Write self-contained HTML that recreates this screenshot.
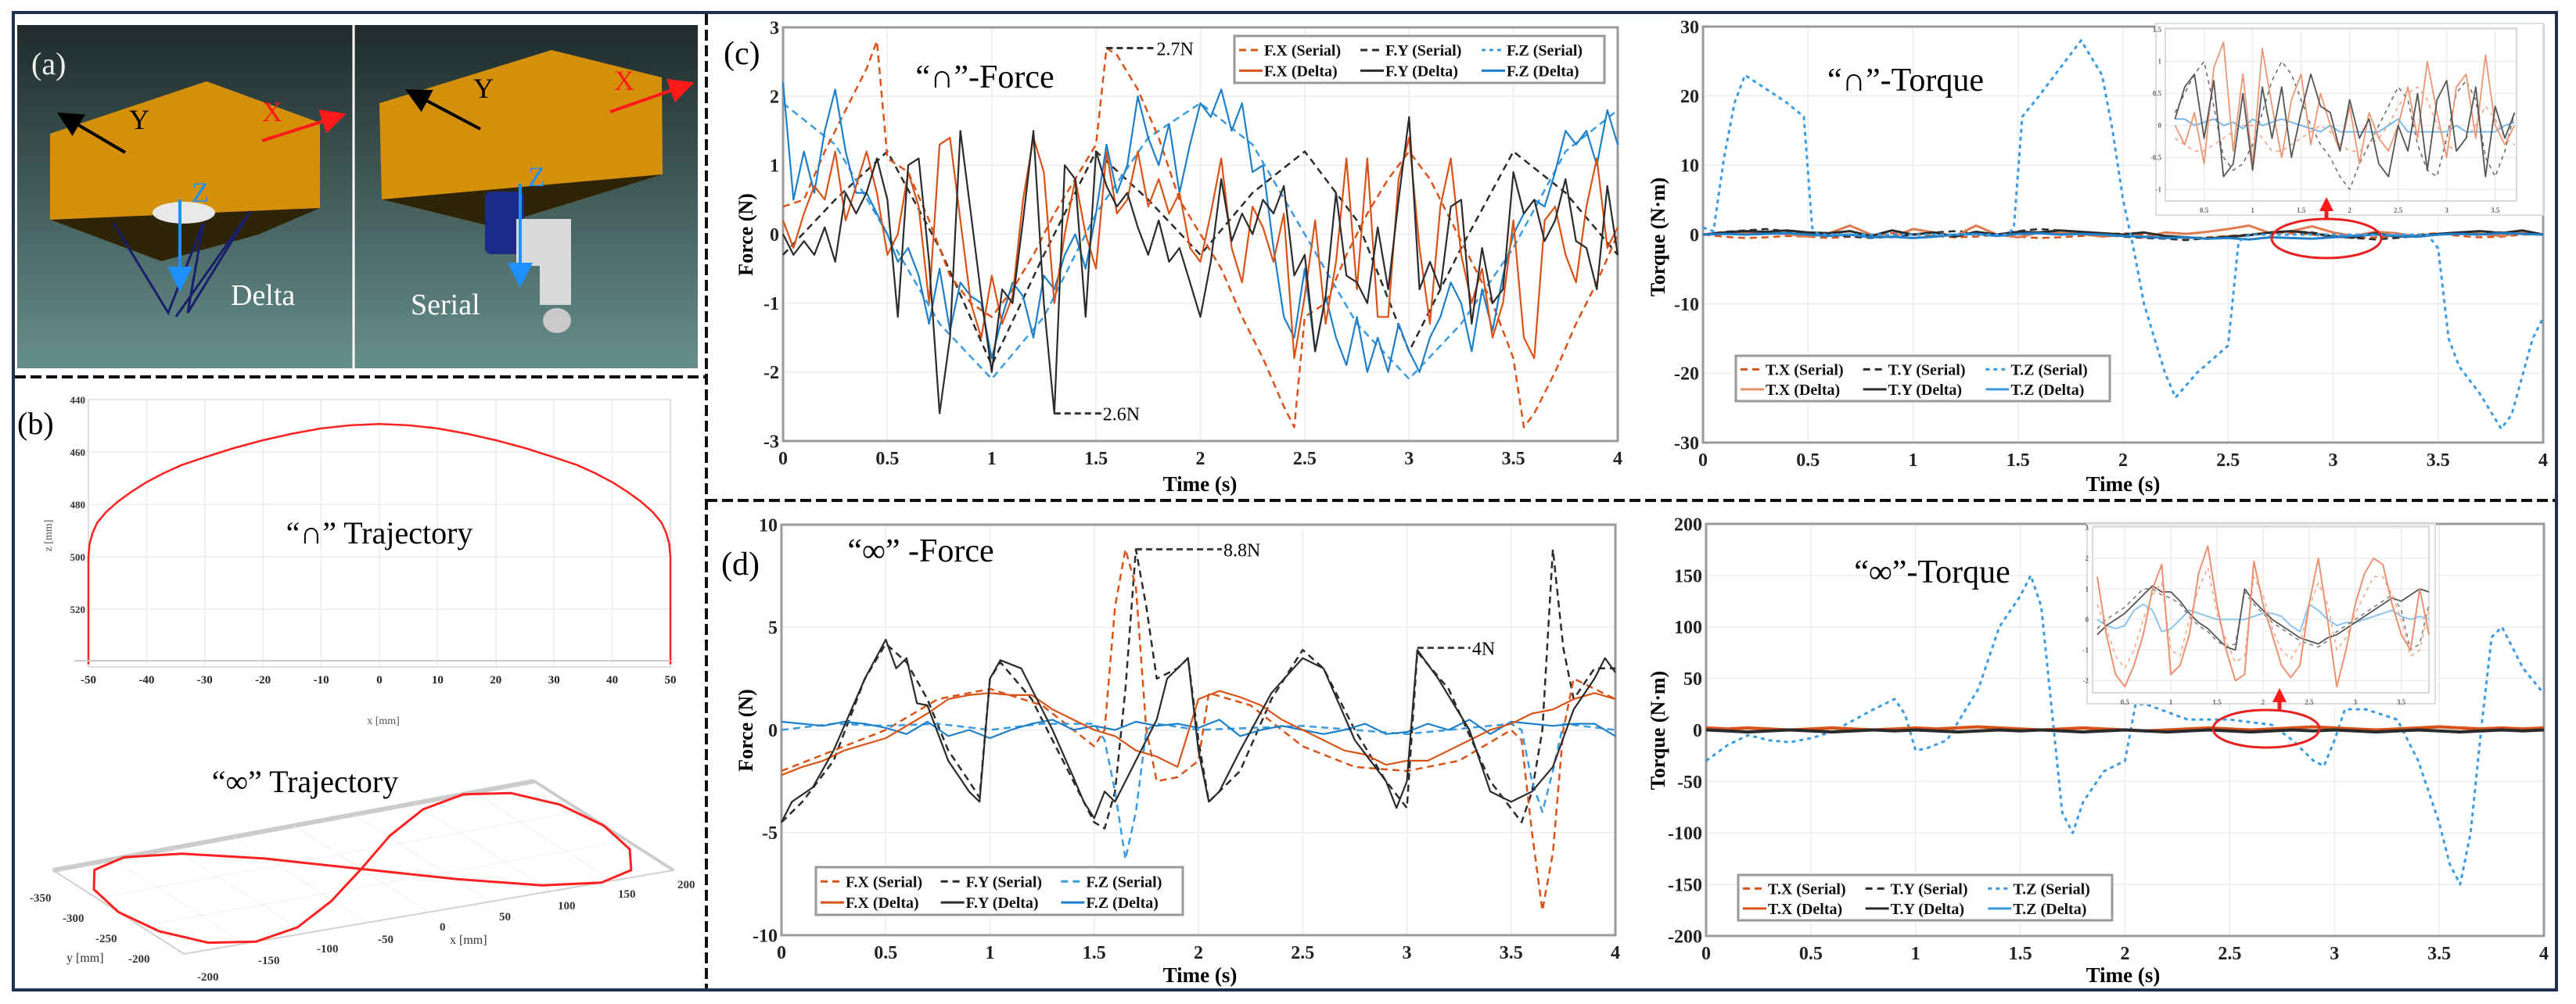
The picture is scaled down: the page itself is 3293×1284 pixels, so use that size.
<!DOCTYPE html>
<html><head><meta charset="utf-8"><style>
html,body{margin:0;padding:0;background:#fff}
svg{display:block}
text{font-family:"Liberation Serif",serif}
</style></head><body>
<svg id="fig" xmlns="http://www.w3.org/2000/svg" width="3293" height="1284" viewBox="0 0 3293 1284">
<defs>
<linearGradient id="bg" x1="0" y1="0" x2="0" y2="1"><stop offset="0" stop-color="#1f2b2a"/><stop offset="1" stop-color="#668f8c"/></linearGradient>
<marker id="arR" markerWidth="8" markerHeight="8" refX="6" refY="4" orient="auto"><path d="M0,0 L8,4 L0,8 z" fill="#ff1a1a"/></marker>
<marker id="arR2" markerUnits="userSpaceOnUse" markerWidth="18" markerHeight="18" refX="12" refY="9" orient="auto"><path d="M0,0 L18,9 L0,18 z" fill="#ff1a1a"/></marker>
<marker id="arK" markerWidth="8" markerHeight="8" refX="6" refY="4" orient="auto"><path d="M0,0 L8,4 L0,8 z" fill="#000"/></marker>
<marker id="arB" markerWidth="8" markerHeight="8" refX="6" refY="4" orient="auto"><path d="M0,0 L8,4 L0,8 z" fill="#1e90ff"/></marker>
</defs>
<rect x="17" y="16" width="3251" height="1250" fill="#fff" stroke="#1f3050" stroke-width="4"/>
<g>
<rect x="22" y="32" width="870" height="439" fill="url(#bg)"/>
<line x1="452" y1="32" x2="452" y2="471" stroke="#fff" stroke-width="3"/>
<polygon points="64,171 264,104 409,157 409,266 206,334 64,281" fill="#d4900a"/>
<polygon points="64,281 409,266 330,300 206,334" fill="#2e2408"/>
<polygon points="485,132 705,64 846,99 847,223 630,290 488,255" fill="#d4900a"/>
<polygon points="488,255 847,223 630,290" fill="#2e2408"/>
<line x1="160" y1="195" x2="80" y2="148" stroke="#000" stroke-width="4" marker-end="url(#arK)"/>
<line x1="335" y1="180" x2="435" y2="148" stroke="#ff1a1a" stroke-width="4" marker-end="url(#arR)"/>
<line x1="614" y1="165" x2="525" y2="118" stroke="#000" stroke-width="4" marker-end="url(#arK)"/>
<line x1="780" y1="143" x2="880" y2="108" stroke="#ff1a1a" stroke-width="4" marker-end="url(#arR)"/>
<ellipse cx="235" cy="272" rx="40" ry="14" fill="#e8e8e8"/>
<polyline points="145,285 215,400 260,285 240,400 320,270 225,405" fill="none" stroke="#1a1f6b" stroke-width="3"/>
<rect x="620" y="245" width="50" height="80" rx="8" fill="#1c2b8a"/>
<rect x="660" y="280" width="70" height="60" fill="#d9d9d9"/>
<rect x="690" y="330" width="40" height="60" fill="#d9d9d9"/>
<ellipse cx="712" cy="410" rx="18" ry="16" fill="#c9c9c9"/>
<line x1="230" y1="255" x2="230" y2="365" stroke="#1e90ff" stroke-width="4" marker-end="url(#arB)"/>
<line x1="665" y1="235" x2="665" y2="360" stroke="#1e90ff" stroke-width="4" marker-end="url(#arB)"/>
<text x="40" y="95" font-size="40" fill="#eee">(a)</text>
<text x="165" y="165" font-size="36" fill="#000">Y</text>
<text x="335" y="155" font-size="36" fill="#ff1a1a">X</text>
<text x="245" y="258" font-size="36" fill="#1e90ff">Z</text>
<text x="295" y="390" font-size="38" fill="#fff">Delta</text>
<text x="605" y="125" font-size="36" fill="#000">Y</text>
<text x="785" y="115" font-size="36" fill="#ff1a1a">X</text>
<text x="675" y="238" font-size="36" fill="#1e90ff">Z</text>
<text x="525" y="402" font-size="38" fill="#fff">Serial</text>
</g>
<g stroke="#111" stroke-width="4" stroke-dasharray="14,6">
<line x1="903" y1="18" x2="903" y2="1264"/>
<line x1="19" y1="482" x2="903" y2="482"/>
<line x1="903" y1="640" x2="3266" y2="640"/>
</g>
<text x="22" y="555" font-size="40">(b)</text>
<g id="layer"></g>
</svg>
<script>
const NS='http://www.w3.org/2000/svg';
const layer=document.getElementById('layer');
function el(tag,attrs,parent,txt){const e=document.createElementNS(NS,tag);for(const k in attrs)e.setAttribute(k,attrs[k]);if(txt!==undefined)e.textContent=txt;(parent||layer).appendChild(e);return e;}

/* ---------- DATA ---------- */
const tickT=[0,0.5,1,1.5,2,2.5,3,3.5,4];
const tickLabT=['0','0.5','1','1.5','2','2.5','3','3.5','4'];
const t05=[];for(let i=0;i<=80;i++)t05.push(i*0.05);
const t10=[];for(let i=0;i<=40;i++)t10.push(i*0.1);

const cTicksY=[-3,-2,-1,0,1,2,3];
const cFxS_t=[0,0.1,0.2,0.3,0.4,0.45,0.5,0.6,0.7,0.8,0.9,1.0,1.1,1.2,1.3,1.4,1.5,1.55,1.6,1.7,1.8,1.9,2.0,2.1,2.2,2.3,2.4,2.45,2.5,2.6,2.7,2.8,2.9,3.0,3.1,3.2,3.3,3.4,3.5,3.55,3.6,3.7,3.8,3.9,4.0];
const cFxS=[0.4,0.5,1.2,1.8,2.4,2.8,1.1,0.9,0.2,-0.6,-1.0,-1.2,-0.8,-0.3,0.3,0.8,1.3,2.7,2.6,2.1,1.4,0.5,0.0,-0.5,-1.2,-1.8,-2.5,-2.8,-1.2,-1.0,-0.3,0.3,0.8,1.2,0.8,0.2,-0.4,-1.0,-1.8,-2.8,-2.6,-2.0,-1.3,-0.7,0.0];
const cFyS_t=[0,0.25,0.5,0.75,1,1.25,1.5,1.75,2,2.25,2.5,2.75,3,3.25,3.5,3.75,4];
const cFyS=[-0.3,0.5,1.2,-0.2,-1.9,-0.3,1.2,0.5,-0.3,0.6,1.2,0.2,-1.7,-0.2,1.2,0.6,-0.3];
const cFzS=[1.9,1.3,0.0,-1.3,-2.1,-1.2,0.3,1.4,1.9,1.3,0.0,-1.3,-2.1,-1.3,-0.2,1.2,1.8];
const cFxD=[0.2,-0.2,0.3,0.7,0.5,1.2,0.2,0.7,1.2,0.6,-0.3,0.0,0.9,0.4,-1.0,1.3,1.4,0.2,-1.0,-1.5,-0.6,-1.3,-0.9,0.5,1.4,0.9,-1.0,0.0,0.8,0.0,-0.5,1.2,0.3,0.5,1.2,0.4,0.8,0.3,0.6,-0.2,-0.4,0.3,1.1,-0.2,-0.7,0.4,0.1,-0.4,0.3,-1.8,-0.9,0.2,-1.3,-0.4,1.1,-0.8,1.1,-1.2,-1.2,0.8,1.4,-0.2,-1.3,0.4,1.1,-0.3,-1.0,-0.5,-1.5,-1.0,0.2,-1.5,-1.8,0.2,0.4,-0.3,-0.7,0.4,1.1,-0.2,0.1];
const cFyD=[0,-0.3,-0.1,-0.3,0.1,-0.4,0.6,0.3,0.6,1.1,0.5,-1.2,1.0,1.1,-0.4,-2.6,-1.5,1.5,0.3,-0.9,-2.0,-0.8,-1.0,0.2,1.5,-1.0,-2.6,1.0,0.8,-1.2,1.2,0.7,0.4,0.6,0.1,-0.3,0.2,-0.4,-0.2,-0.7,-1.2,-0.4,0.8,-0.1,0.3,0.0,0.5,0.3,0.7,-0.6,-0.3,-1.7,-0.9,0.6,-0.6,-0.7,-1.0,0.1,-0.8,0.5,1.7,-0.8,-0.4,-0.8,0.4,0.5,-1.3,-0.2,-1.0,-0.8,0.9,0.3,0.5,-0.1,0.2,0.8,-0.1,-0.2,-0.8,0.7,-0.3];
const cFzD=[2.2,0.5,1.2,0.6,1.5,2.1,1.2,0.6,0.6,0.3,0.0,-0.4,-0.2,-0.6,-1.3,-0.5,-1.4,-0.7,-0.9,-1.0,-1.8,-1.2,-0.7,-0.9,-1.5,-0.6,-0.8,-0.3,0.0,-0.5,0.3,1.3,0.6,1.0,2.0,1.4,1.0,1.6,0.6,1.3,1.9,1.7,2.1,1.5,1.9,0.9,1.0,-0.2,-1.2,-1.5,-0.5,-1.7,-0.9,-1.5,-1.9,-1.2,-2.0,-1.5,-2.0,-1.3,-1.7,-2.0,-1.5,-1.2,-0.7,-1.0,-1.7,-0.8,-1.4,-0.6,0.0,0.3,0.5,0.4,0.9,1.5,1.3,1.5,1.0,1.8,1.3];

const ctTicksY=[-30,-20,-10,0,10,20,30];
const ctTzS_t=[0,0.05,0.1,0.15,0.2,0.3,0.4,0.48,0.52,0.55,1.45,1.48,1.52,1.6,1.7,1.8,1.9,1.95,2.0,2.05,2.1,2.2,2.25,2.35,2.5,2.55,2.6,3.45,3.5,3.55,3.6,3.7,3.8,3.85,3.95,4.0];
const ctTzS=[1,0.5,11,19,23,21,19,17,1,0,0,1,17,20,24,28,23,15,5,-2,-10,-20,-23.5,-20,-16,-1,0,0,-2,-15,-19,-23,-28,-26,-15,-12];
const ctTxD=[0,0.2,0.3,0.2,0.1,-0.3,0.2,1.3,0.0,-0.4,0.8,0.3,-0.2,1.3,0.0,-0.4,0.3,0.2,0.1,-0.3,0.0,-0.4,0.3,0.1,0.4,0.8,1.3,0.2,0.5,1.2,0.3,-0.2,0.4,0.2,-0.3,0.0,0.3,0.1,-0.2,0.3,0.0];
const ctTyD=[0,0.3,0.5,0.4,0.6,0.3,0.2,0.5,-0.2,0.6,0.0,0.3,-0.3,0.4,0.0,0.4,0.3,0.6,0.4,0.2,0.0,0.3,-0.2,-0.4,-0.6,-0.3,-0.1,0.3,0.5,0.2,-0.3,-0.4,0.2,-0.3,-0.2,0.1,0.3,0.5,0.2,0.6,0.0];
const ctTzD=[0,0.1,0.0,0.1,0.2,0.0,-0.2,0.0,-0.4,-0.3,-0.5,-0.3,0.0,0.1,-0.2,0.1,0.2,0.0,0.1,0.0,-0.2,-0.3,-0.5,-0.4,-0.6,-0.5,-0.7,-0.4,-0.5,-0.6,-0.4,-0.2,0.0,-0.2,-0.3,0.0,0.1,0.0,0.2,0.1,0.0];
const ctTxS=[0,-0.3,-0.5,-0.4,-0.2,-0.3,-0.5,-0.3,0.0,0.2,0.0,-0.2,-0.4,-0.3,0.0,-0.3,-0.5,-0.4,-0.2,0.0,0.2,0.0,-0.3,-0.5,-0.4,-0.2,0.0,0.3,0.2,0.0,-0.3,-0.5,-0.4,-0.2,0.0,0.2,-0.2,-0.4,-0.3,0.0,0.0];
const ctTyS=[0,0.4,0.6,0.8,0.5,0.2,0.0,-0.3,-0.5,-0.3,0.0,0.3,0.5,0.3,0.0,0.5,0.8,0.6,0.3,0.0,-0.3,-0.5,-0.6,-0.8,-0.5,-0.3,0.0,0.3,0.5,0.3,-0.2,-0.5,-0.7,-0.5,-0.2,0.0,0.3,0.5,0.3,0.2,0.0];
const ciT=[];for(let i=0;i<36;i++)ciT.push(0.2+i*0.1);
const ciTicksX=[0.5,1,1.5,2,2.5,3,3.5];
const ciTicksY=[-1,-0.5,0,0.5,1,1.5];
const ciTxD=[0.0,-0.3,0.2,-0.6,0.9,1.3,-0.4,0.8,-0.6,1.2,0.3,-0.5,0.4,0.8,-0.3,0.5,0.0,-0.4,0.3,-0.6,0.2,-0.2,-0.4,0.0,0.6,-0.2,1.0,0.2,-0.5,0.6,0.8,-0.2,1.1,0.0,-0.3,0.0];
const ciTyD=[0.1,0.6,0.8,-0.2,0.7,-0.8,-0.6,0.5,-0.7,0.6,-0.2,0.6,-0.5,0.2,0.8,0.3,0.2,-0.4,0.4,-0.2,0.1,-0.6,-0.8,0.0,-0.4,0.5,-0.7,0.4,0.7,-0.4,-0.2,0.6,-0.8,0.3,-0.2,0.2];
const ciTyS=[0.2,0.5,0.8,1.0,0.3,-0.5,-0.7,-0.6,-0.3,0.2,0.7,1.0,0.8,0.4,0.0,-0.3,-0.5,-0.8,-1.0,-0.6,-0.3,0.0,0.3,0.6,0.4,-0.3,-0.7,-0.8,-0.2,0.5,0.7,0.4,-0.5,-0.8,-0.4,0.2];
const ciTxS=[-0.2,-0.3,-0.4,-0.4,-0.3,-0.2,-0.1,0.0,0.0,-0.2,-0.4,-0.4,-0.3,-0.2,-0.1,0.0,-0.1,-0.3,-0.4,-0.4,-0.3,-0.2,0.0,0.3,0.5,0.6,0.4,0.0,-0.3,-0.4,-0.2,0.0,0.3,0.1,-0.2,-0.3];
const ciTzD=[0.1,0.1,0.0,0.05,0.1,0.0,0.05,-0.05,0.1,0.0,0.05,0.1,0.05,0.0,-0.05,-0.1,0.0,-0.1,-0.1,-0.1,-0.1,-0.1,0.0,0.1,-0.1,-0.1,-0.1,-0.1,-0.1,0.0,-0.1,-0.1,-0.1,-0.1,0.0,0.05];

const dTicksY=[-10,-5,0,5,10];
const dFxS_t=[0,0.25,0.5,0.75,0.9,1.0,1.25,1.5,1.55,1.6,1.65,1.7,1.75,1.8,1.9,2.0,2.05,2.25,2.5,2.75,3.0,3.25,3.5,3.55,3.6,3.65,3.7,3.75,3.8,4.0];
const dFxS=[-2,-1,0,1.5,1.8,2.0,1.2,-0.8,0,6,8.8,7,0,-2.5,-2.3,-1.5,1.8,1.2,-0.8,-1.8,-2.0,-1.5,0.0,-0.5,-5,-8.8,-6,0,2.5,1.5];
const dFyS_t=[0,0.1,0.25,0.4,0.5,0.6,0.7,0.8,0.9,0.95,1.0,1.05,1.2,1.4,1.5,1.55,1.6,1.65,1.7,1.75,1.8,1.9,1.95,2.0,2.05,2.2,2.35,2.5,2.6,2.75,2.9,3.0,3.05,3.2,3.4,3.55,3.6,3.65,3.7,3.75,3.8,3.9,4.0];
const dFyS=[-4.5,-3.5,-1.5,2.5,4.2,3.3,1.5,-1,-2.5,-3.3,2.5,3.3,1.5,-2.5,-4.5,-4.8,-3,2,8.8,6,2.5,3,3.5,-0.5,-3.5,-2,1.5,3.9,3,0,-2.5,-3.8,3.8,2.0,-2.5,-4.5,-3,0,8.8,4,1.5,3,3];
const dFyD_t=[0,0.05,0.15,0.25,0.4,0.5,0.55,0.6,0.65,0.7,0.8,0.9,0.95,1.0,1.05,1.15,1.3,1.4,1.45,1.5,1.55,1.6,1.7,1.8,1.85,1.95,2.0,2.05,2.1,2.2,2.35,2.5,2.6,2.75,2.9,2.95,3.0,3.05,3.15,3.3,3.4,3.5,3.6,3.7,3.8,3.9,3.95,4.0];
const dFyD=[-4.5,-3.5,-2.8,-1.0,2.5,4.4,3.0,3.5,1.3,1.2,-1.5,-3,-3.5,2.5,3.4,3,0,-2.3,-3.5,-4.3,-3,-3.5,-1.5,0.5,2.5,3.5,-1,-3.5,-3,-1,1.8,3.5,3,-0.5,-2.5,-3.8,-2.5,3.9,2.5,0,-3.0,-3.5,-3.0,-1.8,1.0,2.5,3.5,2.8];
const dFxD=[-2.2,-1.8,-1.5,-1.0,-0.7,-0.4,0.2,0.8,1.5,1.7,1.8,1.7,1.7,1.0,0.5,0.0,-0.3,-1.0,-1.3,-1.8,1.5,1.9,1.6,1.2,0.5,0.0,-0.5,-1.0,-1.2,-1.7,-1.5,-1.5,-1.0,-0.5,0.0,0.3,0.8,1.0,1.5,1.8,1.5];
const dFzS_t=[0,0.25,0.5,0.75,1.0,1.25,1.5,1.55,1.6,1.65,1.7,1.75,1.8,2.0,2.5,3.0,3.5,3.55,3.6,3.65,3.7,3.75,4.0];
const dFzS=[0.0,0.3,0.2,0.3,0.0,0.3,0.3,-0.5,-3,-6.3,-4,0,0.3,0.0,0.2,-0.2,0.3,0,-2.5,-4,-2,0.3,0];
const dFzD=[0.4,0.3,0.2,0.4,0.3,0.1,-0.2,0.4,-0.3,0.0,-0.4,0.0,0.3,0.5,0.0,0.2,0.0,0.4,0.2,0.3,0.1,0.5,-0.3,0.0,0.2,0.0,-0.2,0.0,0.3,-0.2,-0.1,0.3,0.0,0.5,-0.2,0.4,0.3,0.2,0.3,0.3,-0.3];

const dtTicksY=[-200,-150,-100,-50,0,50,100,150,200];
const dtTzS_t=[0,0.1,0.2,0.3,0.4,0.5,0.6,0.8,0.9,0.95,1.0,1.05,1.15,1.3,1.4,1.5,1.55,1.6,1.65,1.7,1.75,1.8,1.9,2.0,2.05,2.1,2.3,2.5,2.7,2.8,2.9,2.95,3.0,3.05,3.15,3.3,3.4,3.5,3.55,3.6,3.65,3.7,3.75,3.8,3.9,4.0];
const dtTzS=[-30,-15,-5,-10,-12,-8,-2,20,30,15,-20,-18,-10,40,100,130,150,120,20,-80,-100,-70,-40,-30,25,25,10,10,5,-10,-30,-35,-10,20,20,10,-30,-90,-130,-150,-100,0,90,100,60,35];
const dtTxD=[2,1,2,1,0,1,2,1,0,1,2,1,2,3,2,1,0,1,2,1,0,-1,0,1,2,1,0,1,2,3,2,1,0,1,2,3,2,1,2,1,2];
const dtTyD=[0,-1,-2,-1,0,-1,-2,-1,0,-1,0,-1,-2,-1,0,-1,0,-1,-2,-1,0,-1,-2,-1,0,-1,-2,-1,0,-1,0,-1,-2,-1,0,-1,-2,-1,0,-1,0];
const diT=[];for(let i=0;i<37;i++)diT.push(0.2+i*0.1);
const diTicksX=[0.5,1,1.5,2,2.5,3,3.5];
const diTicksY=[-2,-1,0,1,2,3];
const diTxD=[1.4,-0.5,-1.8,-2.2,-1.5,-0.5,1.0,1.8,-1.8,-1.5,-0.5,1.5,2.4,0.5,-1.0,-2.0,-1.8,1.9,0.5,-0.5,-1.5,-1.9,-1.5,0.5,2.0,0.0,-2.2,-1.0,0.5,1.5,2.0,1.8,0.5,-0.5,-1.0,1.0,-0.5];
const diTxS=[0.5,-0.3,-1.2,-1.6,-1.0,0.0,0.8,1.2,-1.0,-1.2,0.0,1.0,1.7,0.2,-0.7,-1.4,-1.2,1.4,0.8,-0.3,-1.0,-1.3,-0.8,0.4,1.2,0.5,-1.0,-0.6,0.2,0.8,1.4,1.4,0.8,0.0,-1.2,-1.0,0.3];
const diTyD=[-0.5,-0.2,0.0,0.2,0.5,0.8,1.1,0.9,0.9,0.6,0.2,-0.1,-0.3,-0.6,-0.9,-1.0,1.0,0.6,0.3,0.0,-0.2,-0.4,-0.6,-0.7,-0.8,-0.6,-0.5,-0.3,-0.1,0.1,0.3,0.5,0.7,0.6,0.8,1.0,0.9];
const diTyS=[-0.3,0.0,0.2,0.4,0.7,1.0,1.0,0.8,0.7,0.5,0.1,-0.2,-0.4,-0.7,-0.9,-0.8,0.9,0.5,0.2,-0.1,-0.3,-0.5,-0.7,-0.8,-0.9,-0.7,-0.4,-0.2,0.0,0.2,0.4,0.6,0.8,0.3,-1.0,-0.8,0.5];
const diTzD=[0.0,-0.2,-0.3,-0.2,0.3,0.5,0.3,-0.4,-0.3,0.0,0.3,0.2,0.1,0.0,0.0,0.0,0.0,0.1,0.2,0.2,0.1,-0.2,-0.4,0.5,0.3,0.0,-0.2,-0.1,-0.1,0.0,0.1,0.2,0.3,0.1,0.0,0.1,0.0];

const bTicksX=[-50,-40,-30,-20,-10,0,10,20,30,40,50];
const bTicksZ=[440,460,480,500,520];
const capX=[-50,-50,-49.8,-49.3,-48.5,-47,-45,-42.5,-40,-37,-34,-30,-25,-20,-15,-10,-5,0,5,10,15,20,25,30,34,37,40,42.5,45,47,48.5,49.3,49.8,50,50];
const capZ=[541,500,495,491,487,483,479,475,471.5,468,465,462,458.5,455.5,453,451,449.8,449.3,449.8,451,453,455.5,458.5,462,465,468,471.5,475,479,483,487,491,495,500,541];
const infX=[0,52,100,141,173,193,200,193,173,141,100,52,0,-52,-100,-141,-173,-193,-200,-193,-173,-141,-100,-52,0];
const infY=[-275,-237,-210,-200,-210,-237,-275,-312,-340,-350,-340,-312,-275,-237,-210,-200,-210,-237,-275,-312,-340,-350,-340,-312,-275];

/* ---------- HELPERS ---------- */
function axes(c){
  const sx=v=>c.l+(v-c.xmin)/(c.xmax-c.xmin)*(c.r-c.l);
  const sy=v=>c.b-(v-c.ymin)/(c.ymax-c.ymin)*(c.b-c.t);
  const g=el('g',{});
  
  
  c.xt.forEach((v,i)=>{el('line',{x1:sx(v),y1:c.t,x2:sx(v),y2:c.b,stroke:'#ececec','stroke-width':1.5},g);
    if(c.xl)el('text',{x:sx(v),y:c.b+c.fs+6,'font-size':c.fs,'font-weight':'bold','text-anchor':'middle',fill:c.tc||'#222'},g,c.xl[i]);});
  c.yt.forEach(v=>{el('line',{x1:c.l,y1:sy(v),x2:c.r,y2:sy(v),stroke:'#ececec','stroke-width':1.5},g);
    el('text',{x:c.l-5,y:sy(v)+c.fs*0.35,'font-size':c.fs,'font-weight':'bold','text-anchor':'end',fill:c.tc||'#222'},g,String(v));});
  el('rect',{x:c.l,y:c.t,width:c.r-c.l,height:c.b-c.t,fill:'none',stroke:c.fc||'#9a9a9a','stroke-width':c.fw||3},g);
  return {sx,sy,g};
}
function series(ax,ts,vs,color,dash,w,name,op){
  const pts=ts.map((t,i)=>ax.sx(t).toFixed(1)+','+ax.sy(vs[i]).toFixed(1)).join(' ');
  const p=el('polyline',{points:pts,fill:'none',stroke:color,'stroke-width':w,'stroke-dasharray':dash||'none','stroke-linejoin':'round',opacity:op||1});
  
  
  return p;
}
function txt(x,y,s,fs,extra,name){
  const e=el('text',Object.assign({x:x,y:y,'font-size':fs},extra||{}),layer,s);
  
  
  return e;
}
function legend(x,y,w,h,items,name){
  const g=el('g',{});
  
  
  el('rect',{x:x,y:y,width:w,height:h,fill:'#fff',stroke:'#999','stroke-width':3},g);
  const cw=(w-8)/3;
  items.forEach((it,i)=>{const col=i%3,row=Math.floor(i/3);
    const xx=x+6+col*cw,yy=y+h*0.3+row*h*0.44;
    el('line',{x1:xx,y1:yy,x2:xx+30,y2:yy,stroke:it[1],'stroke-width':3,'stroke-dasharray':it[2]||'none'},g);
    el('text',{x:xx+32,y:yy+7,'font-size':20,'font-weight':'bold',fill:'#111'},g,it[0]);});
}
const OR='#D95319',BK='#2b2b2b',BL='#1f7fc8',BLs='#3a9be0';
const DS='9,6',DT='5,5';

/* ---------- (c) FORCE ---------- */
let a=axes({name:'c-force',l:1001,t:35,r:2068,b:564,xmin:0,xmax:4,ymin:-3,ymax:3,xt:tickT,xl:tickLabT,yt:cTicksY,fs:24});
series(a,cFyS_t,cFyS,BK,DS,2.5,'c-fy-serial');
series(a,cFyS_t,cFzS,BLs,DS,2.5,'c-fz-serial');
series(a,cFxS_t,cFxS,OR,DS,2.5,'c-fx-serial');
series(a,t05,cFzD,BL,null,2.2,'c-fz-delta');
series(a,t05,cFxD,OR,null,2.2,'c-fx-delta');
series(a,t05,cFyD,BK,null,2.2,'c-fy-delta');
el('polyline',{points:`${a.sx(1.55)},${a.sy(2.7)} ${a.sx(1.55)+62},${a.sy(2.7)}`,stroke:'#333','stroke-width':3,'stroke-dasharray':'8,5',fill:'none'});
txt(a.sx(1.55)+64,a.sy(2.7)+9,'2.7N',24,{},'annotation-2-7n');
el('polyline',{points:`${a.sx(1.3)},${a.sy(-2.6)} ${a.sx(1.3)+60},${a.sy(-2.6)}`,stroke:'#333','stroke-width':3,'stroke-dasharray':'8,5',fill:'none'});
txt(a.sx(1.3)+62,a.sy(-2.6)+9,'2.6N',24,{},'annotation-2-6n');
legend(1578,46,473,60,[['F.X (Serial)',OR,DS],['F.Y (Serial)',BK,DS],['F.Z (Serial)',BLs,DT],['F.X (Delta)',OR],['F.Y (Delta)',BK],['F.Z (Delta)',BL]],'c-force-legend');
txt(1259,112,'“∩”-Force',42,{'text-anchor':'middle'},'c-force-title');
txt(925,82,'(c)',42,{},'panel-c-label');
txt(1534,628,'Time (s)',27,{'text-anchor':'middle','font-weight':'bold'},'c-force-x-title');
txt(0,0,'Force (N)',26,{'text-anchor':'middle','font-weight':'bold',transform:'translate(962,300) rotate(-90)'},'c-force-y-title');

/* ---------- (c) TORQUE ---------- */
a=axes({name:'c-torque',l:2177,t:34,r:3251,b:566,xmin:0,xmax:4,ymin:-30,ymax:30,xt:tickT,xl:tickLabT,yt:ctTicksY,fs:24});
series(a,t10,ctTxS,OR,DS,2.5,'c-tx-serial');
series(a,t10,ctTyS,BK,DS,2.5,'c-ty-serial');
series(a,t10,ctTxD,'#e07a50',null,3,'c-tx-delta');
series(a,t10,ctTyD,BK,null,3,'c-ty-delta');
series(a,t10,ctTzD,BL,null,3,'c-tz-delta');
series(a,ctTzS_t,ctTzS,BLs,DT,3,'c-tz-serial');
legend(2219,455,478,58,[['T.X (Serial)',OR,DS],['T.Y (Serial)',BK,DS],['T.Z (Serial)',BLs,DT],['T.X (Delta)','#e8906a'],['T.Y (Delta)',BK],['T.Z (Delta)',BLs]],'c-torque-legend');
txt(2436,116,'“∩”-Torque',42,{'text-anchor':'middle'},'c-torque-title');
txt(2714,628,'Time (s)',27,{'text-anchor':'middle','font-weight':'bold'},'c-torque-x-title');
txt(0,0,'Torque (N·m)',26,{'text-anchor':'middle','font-weight':'bold',transform:'translate(2128,303) rotate(-90)'},'c-torque-y-title');
el('rect',{x:2756,y:30,width:495,height:245,fill:'#fff',stroke:'#ddd','stroke-width':2});
let ai=axes({name:'c-inset',l:2768,t:36,r:3217,b:257,xmin:0.1,xmax:3.72,ymin:-1.18,ymax:1.52,xt:ciTicksX,xl:['0.5','1','1.5','2','2.5','3','3.5'],yt:ciTicksY,fs:9,fc:'#ccc',fw:1.5,tc:'#666'});
series(ai,ciT,ciTxS,'#f0a080',DT,1.5,'c-inset-tx-serial');
series(ai,ciT,ciTyS,'#666',DT,1.5,'c-inset-ty-serial');
series(ai,ciT,ciTzD,'#7ab8e8',null,2,'c-inset-tz-delta');
series(ai,ciT,ciTxD,'#eb9575',null,1.8,'c-inset-tx-delta');
series(ai,ciT,ciTyD,'#555',null,1.8,'c-inset-ty-delta');
el('ellipse',{cx:2974,cy:305,rx:70,ry:25,fill:'none',stroke:'#e82020','stroke-width':3});
el('line',{x1:2974,y1:281,x2:2974,y2:258,stroke:'#e82020','stroke-width':5,'marker-end':'url(#arR2)'});

/* ---------- (d) FORCE ---------- */
a=axes({name:'d-force',l:999,t:671,r:2065,b:1196,xmin:0,xmax:4,ymin:-10,ymax:10,xt:tickT,xl:tickLabT,yt:dTicksY,fs:24});
series(a,dFyS_t,dFyS,BK,DS,2.5,'d-fy-serial');
series(a,dFxS_t,dFxS,OR,DS,2.5,'d-fx-serial');
series(a,dFzS_t,dFzS,BLs,DS,2.5,'d-fz-serial');
series(a,t10,dFzD,BL,null,2.2,'d-fz-delta');
series(a,t10,dFxD,OR,null,2.2,'d-fx-delta');
series(a,dFyD_t,dFyD,BK,null,2.2,'d-fy-delta');
el('polyline',{points:`${a.sx(1.7)},${a.sy(8.8)} ${a.sx(1.7)+110},${a.sy(8.8)}`,stroke:'#444','stroke-width':3,'stroke-dasharray':'8,5',fill:'none'});
txt(a.sx(1.7)+112,a.sy(8.8)+9,'8.8N',24,{},'annotation-8-8n');
el('polyline',{points:`${a.sx(3.05)},${a.sy(4)} ${a.sx(3.05)+68},${a.sy(4)}`,stroke:'#444','stroke-width':3,'stroke-dasharray':'8,5',fill:'none'});
txt(a.sx(3.05)+70,a.sy(4)+9,'4N',24,{},'annotation-4n');
legend(1043,1109,469,61,[['F.X (Serial)',OR,DS],['F.Y (Serial)',BK,DS],['F.Z (Serial)',BLs,DS],['F.X (Delta)',OR],['F.Y (Delta)',BK],['F.Z (Delta)',BL]],'d-force-legend');
txt(1177,718,'“∞” -Force',42,{'text-anchor':'middle'},'d-force-title');
txt(922,735,'(d)',42,{},'panel-d-label');
txt(1534,1256,'Time (s)',27,{'text-anchor':'middle','font-weight':'bold'},'d-force-x-title');
txt(0,0,'Force (N)',26,{'text-anchor':'middle','font-weight':'bold',transform:'translate(962,934) rotate(-90)'},'d-force-y-title');

/* ---------- (d) TORQUE ---------- */
a=axes({name:'d-torque',l:2181,t:670,r:3252,b:1197,xmin:0,xmax:4,ymin:-200,ymax:200,xt:tickT,xl:tickLabT,yt:dtTicksY,fs:24});
series(a,dtTzS_t,dtTzS,BLs,DT,3,'d-tz-serial');
series(a,t10,dtTxD,OR,null,4,'d-tx-delta');
series(a,t10,dtTyD,BK,null,4,'d-ty-delta');
legend(2222,1119,478,58,[['T.X (Serial)',OR,DS],['T.Y (Serial)',BK,DS],['T.Z (Serial)',BLs,DT],['T.X (Delta)',OR],['T.Y (Delta)',BK],['T.Z (Delta)',BLs]],'d-torque-legend');
txt(2470,745,'“∞”-Torque',42,{'text-anchor':'middle'},'d-torque-title');
txt(2714,1256,'Time (s)',27,{'text-anchor':'middle','font-weight':'bold'},'d-torque-x-title');
txt(0,0,'Torque (N·m)',26,{'text-anchor':'middle','font-weight':'bold',transform:'translate(2128,934) rotate(-90)'},'d-torque-y-title');
el('rect',{x:2668,y:670,width:445,height:230,fill:'#fff',stroke:'#ddd','stroke-width':2});
ai=axes({name:'d-inset',l:2675,t:673,r:3105,b:886,xmin:0.15,xmax:3.8,ymin:-2.4,ymax:3.05,xt:diTicksX,xl:['0.5','1','1.5','2','2.5','3','3.5'],yt:diTicksY,fs:9,fc:'#ccc',fw:1.5,tc:'#666'});
series(ai,diT,diTzD,'#8cc4ee',null,2,'d-inset-tz-delta');
series(ai,diT,diTyS,'#777',DT,1.5,'d-inset-ty-serial');
series(ai,diT,diTyD,'#555',null,1.8,'d-inset-ty-delta');
series(ai,diT,diTxS,'#f0a585',DT,1.5,'d-inset-tx-serial');
series(ai,diT,diTxD,'#eb9070',null,2,'d-inset-tx-delta');
el('ellipse',{cx:2897,cy:932,rx:68,ry:24,fill:'none',stroke:'#e82020','stroke-width':3});
el('line',{x1:2914,y1:909,x2:2914,y2:886,stroke:'#e82020','stroke-width':5,'marker-end':'url(#arR2)'});

/* ---------- (b) CAP TRAJECTORY ---------- */
a=axes({name:'b-cap',l:113,t:511,r:857,b:853,xmin:-50,xmax:50,ymin:-542,ymax:-440,xt:bTicksX,xl:bTicksX.map(String),yt:[],fs:15,fc:'#ddd',fw:2});
bTicksZ.forEach(v=>{const y=a.sy(-v);el('line',{x1:113,y1:y,x2:857,y2:y,stroke:'#ececec','stroke-width':1.5});
  txt(109,y+5,String(v),13,{'text-anchor':'end','font-weight':'bold',fill:'#333'},'b-z-tick');});
series(a,capX,capZ.map(v=>-v),'#ff2020',null,2.5,'cap-trajectory');
el('line',{x1:95,y1:845,x2:857,y2:845,stroke:'#ccc','stroke-width':2});
txt(485,695,'“∩” Trajectory',40,{'text-anchor':'middle'},'cap-trajectory-title');
txt(490,926,'x [mm]',14,{'text-anchor':'middle',fill:'#555'},'b-x-title');
txt(0,0,'z [mm]',14,{'text-anchor':'middle',fill:'#555',transform:'translate(66,685) rotate(-90)'},'b-z-title');

/* ---------- (b) INFINITY 3D ---------- */
const C00=[68,1113],C10=[683,999],C01=[235,1220],C11=[861,1113];
const PB=(x,y)=>{const u=(x+200)/400,v=(-200-y)/150;
  return [C00[0]*(1-u)*(1-v)+C10[0]*u*(1-v)+C01[0]*(1-u)*v+C11[0]*u*v, C00[1]*(1-u)*(1-v)+C10[1]*u*(1-v)+C01[1]*(1-u)*v+C11[1]*u*v];};
const g3=el('g',{});


el('polygon',{points:[C00,C10,C11,C01].map(p=>p.join(',')).join(' '),fill:'none',stroke:'#d0d0d0','stroke-width':2},g3);
el('line',{x1:C00[0],y1:C00[1],x2:C10[0],y2:C10[1],stroke:'#ccc','stroke-width':6},g3);
el('line',{x1:C10[0],y1:C10[1],x2:C11[0],y2:C11[1],stroke:'#ccc','stroke-width':4},g3);
[-150,-100,-50,0,50,100,150].forEach(x=>{const p=PB(x,-350),q=PB(x,-200);el('line',{x1:p[0],y1:p[1],x2:q[0],y2:q[1],stroke:'#eee','stroke-width':1},g3);});
[-300,-250].forEach(y=>{const p=PB(-200,y),q=PB(200,y);el('line',{x1:p[0],y1:p[1],x2:q[0],y2:q[1],stroke:'#eee','stroke-width':1},g3);});
const infPts=infX.map((x,i)=>PB(x,infY[i]).map(v=>v.toFixed(1)).join(',')).join(' ');
const ip=el('polyline',{points:infPts,fill:'none',stroke:'#ff2020','stroke-width':3,'stroke-linejoin':'round'});


[['-350',38,1153],['-300',80,1179],['-250',122,1205],['-200',164,1231],['-200',252,1254],['-150',330,1233],['-100',405,1218],['-50',483,1206],['0',562,1190],['50',638,1177],['100',713,1163],['150',790,1148],['200',866,1136]].forEach(d=>txt(d[1],d[2],d[0],15,{'font-weight':'bold',fill:'#333'},'inf-tick'));
txt(85,1230,'y [mm]',16,{fill:'#333'},'inf-y-title');
txt(575,1207,'x [mm]',16,{fill:'#333'},'inf-x-title');
txt(390,1013,'“∞” Trajectory',40,{'text-anchor':'middle'},'infinity-trajectory-title');
</script>
</body></html>
